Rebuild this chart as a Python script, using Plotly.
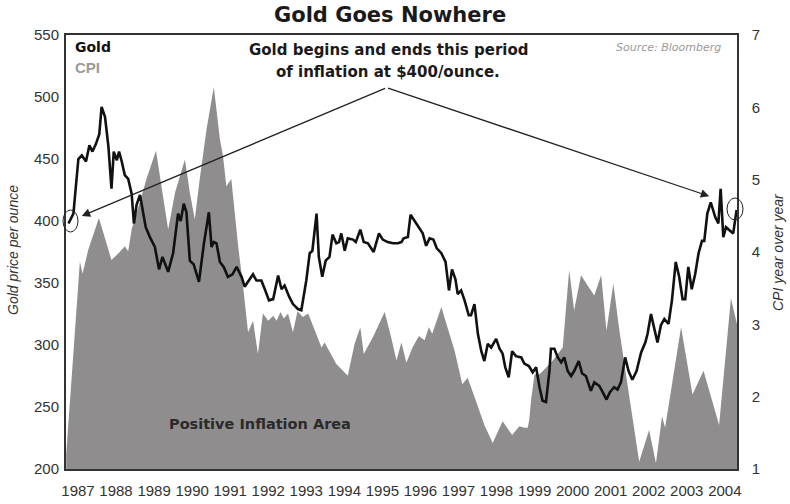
import plotly.graph_objects as go

# ---------------- data ----------------
gold_t = [1986.75, 1986.88, 1987.01, 1987.10, 1987.21, 1987.30, 1987.38, 1987.47, 1987.56, 1987.62,
          1987.71, 1987.80, 1987.88, 1987.94, 1988.02, 1988.08, 1988.15, 1988.23, 1988.32, 1988.41,
          1988.47, 1988.54, 1988.63, 1988.70, 1988.78, 1988.89, 1989.02, 1989.13, 1989.22, 1989.37,
          1989.50, 1989.63, 1989.70, 1989.78, 1989.85, 1989.94, 1990.04, 1990.18, 1990.31, 1990.44,
          1990.51, 1990.57, 1990.64, 1990.73, 1990.83, 1990.94, 1991.06, 1991.17, 1991.30, 1991.38,
          1991.51, 1991.60, 1991.69, 1991.82, 1991.91, 1992.02, 1992.13, 1992.26, 1992.35, 1992.43,
          1992.55, 1992.65, 1992.78, 1992.87, 1993.00, 1993.09, 1993.16, 1993.27, 1993.33, 1993.42,
          1993.51, 1993.61, 1993.69, 1993.79, 1993.86, 1993.92, 1994.01, 1994.09, 1994.23, 1994.30,
          1994.42, 1994.51, 1994.62, 1994.71, 1994.77, 1994.91, 1995.01, 1995.14, 1995.28, 1995.41,
          1995.50, 1995.56, 1995.67, 1995.74, 1995.85, 1995.98, 1996.06, 1996.15, 1996.24, 1996.34,
          1996.43, 1996.55, 1996.66, 1996.75, 1996.83, 1996.92, 1996.98, 1997.07, 1997.16, 1997.27,
          1997.33, 1997.42, 1997.51, 1997.60, 1997.68, 1997.77, 1997.86, 1997.99, 1998.08, 1998.16,
          1998.23, 1998.32, 1998.41, 1998.51, 1998.65, 1998.73, 1998.85, 1998.95, 1999.04, 1999.13,
          1999.21, 1999.30, 1999.39, 1999.43, 1999.52, 1999.61, 1999.70, 1999.78, 1999.87, 1999.96,
          2000.04, 2000.16, 2000.25, 2000.35, 2000.48, 2000.57, 2000.70, 2000.79, 2000.89, 2000.98,
          2001.09, 2001.18, 2001.27, 2001.38, 2001.47, 2001.57, 2001.68, 2001.80, 2001.91, 2001.97,
          2002.06, 2002.14, 2002.23, 2002.32, 2002.41, 2002.52, 2002.61, 2002.71, 2002.80, 2002.89,
          2002.96, 2003.04, 2003.13, 2003.22, 2003.31, 2003.40, 2003.46, 2003.54, 2003.63, 2003.75,
          2003.83, 2003.89, 2003.96, 2004.03, 2004.13, 2004.22, 2004.31]
gold_price = [398, 406, 450, 453, 448, 461, 456, 462, 470, 492,
              484, 460, 426, 456, 449, 456, 448, 437, 434, 422,
              398, 413, 421, 410, 395, 387, 379, 361, 371, 359,
              374, 406, 400, 414, 407, 368, 365, 351, 382, 407,
              379, 383, 382, 367, 363, 355, 357, 363, 355, 347,
              353, 357, 352, 352, 345, 336, 337, 356, 345, 348,
              339, 333, 329, 328, 352, 374, 376, 406, 371, 355,
              368, 371, 389, 382, 383, 390, 376, 386, 385, 383,
              393, 383, 382, 378, 375, 390, 385, 383, 382, 382,
              383, 386, 387, 405, 400, 393, 390, 380, 386, 385,
              378, 374, 367, 344, 361, 353, 341, 344, 336, 324,
              324, 333, 309, 295, 287, 301, 298, 305, 297, 293,
              282, 274, 295, 291, 290, 285, 283, 278, 282, 266,
              255, 254, 279, 297, 297, 290, 286, 290, 279, 275,
              279, 287, 277, 275, 263, 270, 267, 262, 256, 262,
              266, 264, 270, 290, 279, 272, 279, 294, 302, 309,
              325, 314, 302, 316, 321, 317, 336, 367, 355, 337,
              337, 363, 345, 357, 374, 384, 384, 406, 415, 403,
              398, 426, 387, 395, 392, 390, 409]

cpi_t = [1986.69, 1987.05, 1987.12, 1987.27, 1987.55, 1987.88, 1988.06, 1988.23, 1988.32, 1988.41,
         1988.67, 1988.80, 1989.05, 1989.20, 1989.37, 1989.55, 1989.81, 1989.94, 1990.07, 1990.20,
         1990.38, 1990.57, 1990.73, 1990.81, 1990.90, 1991.03, 1991.21, 1991.34, 1991.47, 1991.60,
         1991.73, 1991.86, 1992.00, 1992.13, 1992.22, 1992.32, 1992.41, 1992.52, 1992.65, 1992.77,
         1992.91, 1993.05, 1993.40, 1993.48, 1993.79, 1994.09, 1994.27, 1994.42, 1994.51, 1994.75,
         1995.06, 1995.23, 1995.37, 1995.50, 1995.63, 1995.79, 1995.96, 1996.11, 1996.22, 1996.31,
         1996.55, 1996.68, 1996.90, 1997.10, 1997.24, 1997.46, 1997.68, 1997.90, 1998.16, 1998.41,
         1998.60, 1998.73, 1998.82, 1998.86, 1998.91, 1999.00, 1999.13, 1999.30, 1999.48, 1999.74,
         1999.91, 2000.04, 2000.22, 2000.39, 2000.57, 2000.75, 2000.89, 2001.07, 2001.23, 2001.40,
         2001.58, 2001.75, 2002.01, 2002.19, 2002.35, 2002.43, 2002.85, 2003.15, 2003.44, 2003.85,
         2004.16, 2004.32]
cpi_yoy = [1.2, 3.87, 3.70, 4.03, 4.47, 3.89, 3.98, 4.08, 4.01, 4.31,
           4.77, 5.01, 5.40, 4.91, 4.31, 4.82, 5.28, 4.82, 4.45, 5.01,
           5.70, 6.28, 5.56, 5.33, 4.91, 5.01, 4.08, 3.52, 2.89, 3.05,
           2.59, 3.15, 3.05, 3.12, 3.05, 3.17, 3.08, 3.15, 2.89, 3.18,
           3.10, 3.15, 2.68, 2.75, 2.45, 2.29, 2.73, 2.96, 2.59, 2.82,
           3.17, 2.82, 2.50, 2.75, 2.47, 2.68, 2.84, 2.78, 2.96, 2.87,
           3.24, 3.01, 2.63, 2.17, 2.26, 1.94, 1.61, 1.36, 1.66, 1.47,
           1.59, 1.57, 1.57, 1.68, 1.96, 2.31, 2.31, 2.40, 2.50, 2.68,
           3.75, 3.19, 3.68, 3.54, 3.40, 3.68, 2.91, 3.56, 2.91, 2.31,
           1.66, 1.10, 1.54, 1.08, 1.73, 1.57, 2.96, 2.03, 2.36, 1.61,
           3.36, 3.00]

year_ticks = list(range(1987, 2005))
year_labels = [str(y) for y in year_ticks]
gold_ticks = [200, 250, 300, 350, 400, 450, 500, 550]
cpi_ticks = [1, 2, 3, 4, 5, 6, 7]

# ---------------- figure ----------------
FILL = "#8f8d8e"
TXT = "#333333"
TICKFONT = dict(family="Liberation Sans, Arial, sans-serif", size=15, color=TXT)

fig = go.Figure()

# CPI area on the primary (right-hand) axis so the gold line draws on top
fig.add_trace(go.Scatter(
    x=cpi_t, y=cpi_yoy, yaxis="y", mode="lines",
    line=dict(width=0, color=FILL), fill="tozeroy", fillcolor=FILL,
    name="CPI", hoverinfo="x+y"))

fig.add_trace(go.Scatter(
    x=gold_t, y=gold_price, yaxis="y2", mode="lines",
    line=dict(width=2.6, color="#111111"), name="Gold", hoverinfo="x+y"))

fig.update_layout(
    width=790, height=504,
    margin=dict(l=66, r=53, t=35, b=35, autoexpand=False),
    paper_bgcolor="white", plot_bgcolor="white",
    showlegend=False,
    xaxis=dict(range=[1986.685, 2004.32], tickvals=year_ticks, ticktext=year_labels,
               showgrid=False, zeroline=False, showline=True, linecolor="#333333",
               linewidth=2, mirror=True, ticks="", tickfont=TICKFONT,
               ticklabelstandoff=7, automargin=False),
    yaxis=dict(range=[1, 7], side="right", tickvals=cpi_ticks, showgrid=False,
               zeroline=False, showline=True, linecolor="#333333", linewidth=1.5,
               mirror=True, ticks="", tickfont=TICKFONT, ticklabelstandoff=10,
               automargin=False),
    yaxis2=dict(range=[200, 550], side="left", overlaying="y", tickvals=gold_ticks,
                showgrid=False, zeroline=False, showline=False, ticks="",
                tickfont=TICKFONT, ticklabelstandoff=6, automargin=False),
)

BOLD = "DejaVu Sans, Verdana, sans-serif"

fig.add_annotation(xref="paper", yref="paper", x=(390 - 66) / 671, y=(469 - 15) / 434,
                   text="<b>Gold Goes Nowhere</b>", showarrow=False,
                   font=dict(family=BOLD, size=21, color="#1a1a1a"),
                   xanchor="center", yanchor="middle")

fig.add_annotation(xref="paper", yref="paper", x=(388 - 66) / 671, y=(469 - 50) / 434,
                   text="<b>Gold begins and ends this period</b>", showarrow=False,
                   font=dict(family=BOLD, size=15, color="#1a1a1a"),
                   xanchor="center", yanchor="middle")
fig.add_annotation(xref="paper", yref="paper", x=(388 - 66) / 671, y=(469 - 72) / 434,
                   text="<b>of inflation at $400/ounce.</b>", showarrow=False,
                   font=dict(family=BOLD, size=15, color="#1a1a1a"),
                   xanchor="center", yanchor="middle")

fig.add_annotation(xref="paper", yref="paper", x=(73 - 66) / 671, y=(469 - 47) / 434,
                   text="<b>Gold</b>", showarrow=False,
                   font=dict(family=BOLD, size=14, color="#111111"),
                   xanchor="left", yanchor="middle")
fig.add_annotation(xref="paper", yref="paper", x=(73 - 66) / 671, y=(469 - 68) / 434,
                   text="<b>CPI</b>", showarrow=False,
                   font=dict(family="Liberation Sans, Arial, sans-serif", size=15, color="#9a9a9a"),
                   xanchor="left", yanchor="middle")

fig.add_annotation(xref="paper", yref="paper", x=(723 - 66) / 671, y=(469 - 47) / 434,
                   text="<i>Source: Bloomberg</i>", showarrow=False,
                   font=dict(family=BOLD, size=11, color="#9a9a9a"),
                   xanchor="right", yanchor="middle")

fig.add_annotation(xref="paper", yref="paper", x=(260 - 66) / 671, y=(469 - 424) / 434,
                   text="<b>Positive Inflation Area</b>", showarrow=False,
                   font=dict(family=BOLD, size=14.5, color="#2a2a2a"),
                   xanchor="center", yanchor="middle")

# axis titles
fig.add_annotation(xref="paper", yref="paper", x=-(66 - 13) / 671, y=(469 - 250) / 434,
                   text="<i>Gold price per ounce</i>", showarrow=False, textangle=-90,
                   font=dict(family="Liberation Sans, Arial, sans-serif", size=14, color=TXT),
                   xanchor="center", yanchor="middle")
fig.add_annotation(xref="paper", yref="paper", x=1 + (778 - 737) / 671, y=(469 - 252) / 434,
                   text="<i>CPI year over year</i>", showarrow=False, textangle=-90,
                   font=dict(family="Liberation Sans, Arial, sans-serif", size=14, color=TXT),
                   xanchor="center", yanchor="middle")

# arrows from the text to the two $400 points
apex = (1995.11, 507.5)
for head in [(1987.10, 404.0), (2003.59, 420.0)]:
    fig.add_annotation(xref="x", yref="y2", axref="x", ayref="y2",
                       x=head[0], y=head[1], ax=apex[0], ay=apex[1], text="",
                       showarrow=True, arrowhead=2, arrowsize=1.3, arrowwidth=1.3,
                       arrowcolor="#222222", standoff=0, startstandoff=0)

# circles around the start and end points
for (px0, px1, py0, py1) in [(63, 78, 210, 232), (727, 743, 198, 220)]:
    fig.add_shape(type="circle", xref="paper", yref="paper",
                  x0=(px0 - 66) / 671, x1=(px1 - 66) / 671,
                  y0=(469 - py1) / 434, y1=(469 - py0) / 434,
                  line=dict(color="#222222", width=1))

fig.write_html("out.html", config={"displayModeBar": False},
               post_script="document.body.style.margin='0px';document.body.style.overflow='hidden';")
